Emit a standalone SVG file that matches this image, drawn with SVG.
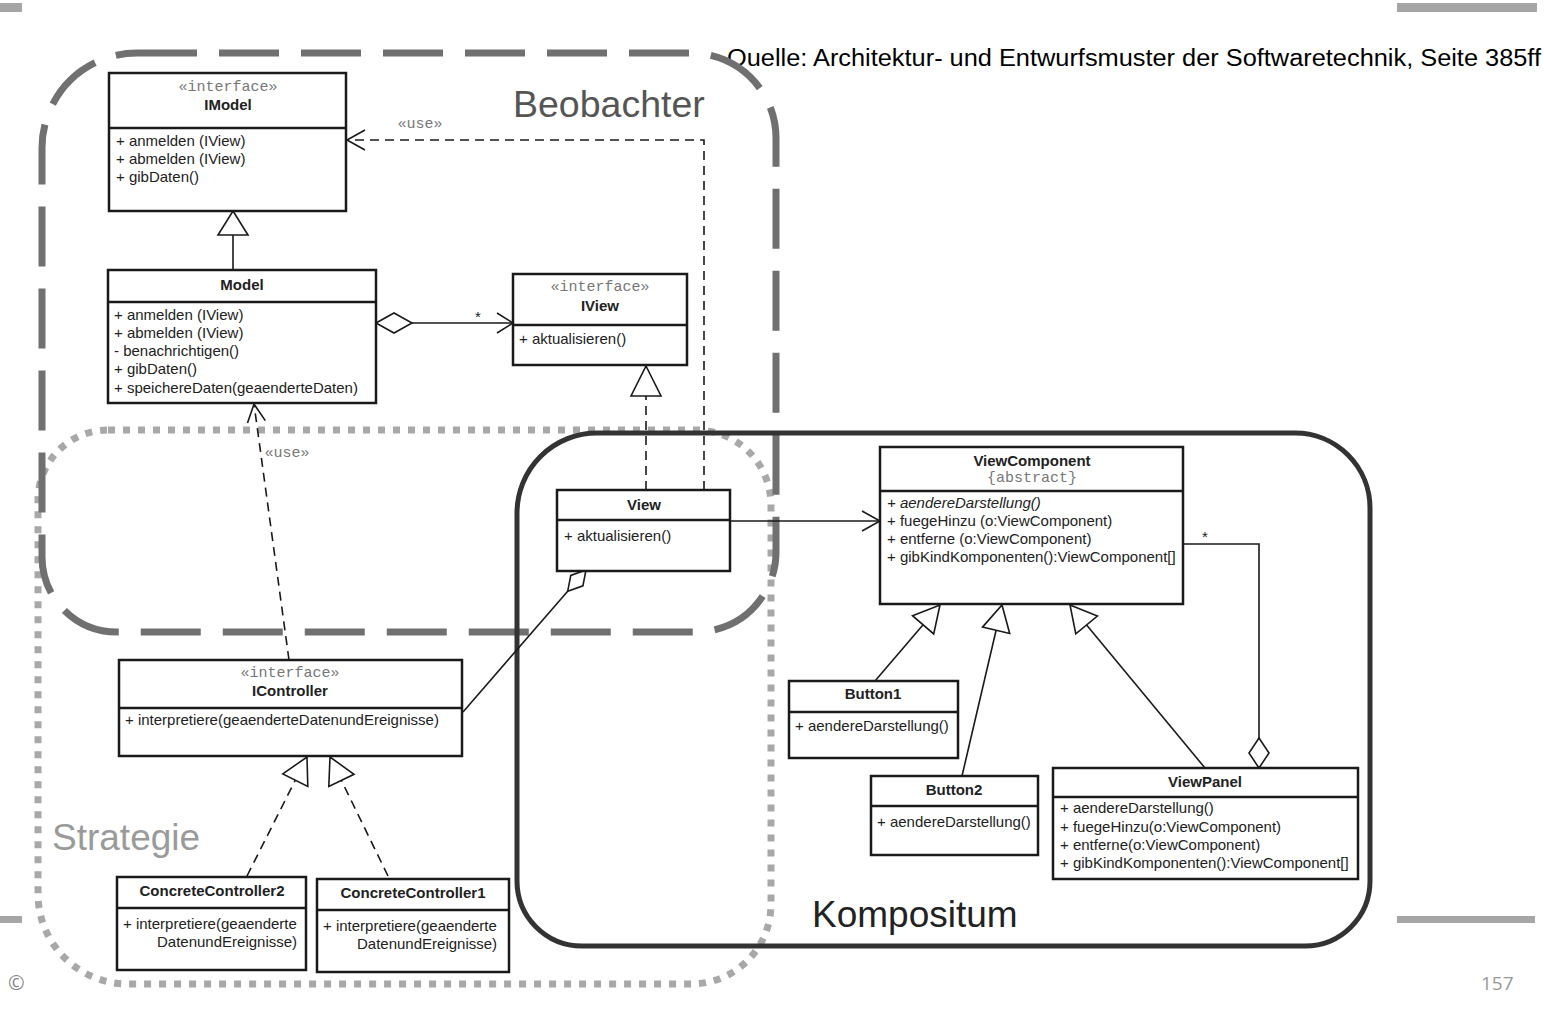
<svg xmlns="http://www.w3.org/2000/svg" width="1544" height="1018" viewBox="0 0 1544 1018">
<style>
.box{fill:#fff;stroke:#1a1a1a;stroke-width:2.5}
.div{stroke:#1a1a1a;stroke-width:2.5}
.t{font-family:"Liberation Sans",Arial,sans-serif;font-size:15px;fill:#222}
.b{font-weight:bold;text-anchor:middle}
.st{font-family:"Liberation Mono","Courier New",monospace;font-size:15px;fill:#777;text-anchor:middle}
.ln{stroke:#1a1a1a;stroke-width:1.6;fill:none}
.dash{stroke-dasharray:9 6}
.head{fill:#fff;stroke:#1a1a1a;stroke-width:1.6}
.region{fill:none}
</style>
<rect width="1544" height="1018" fill="#fff"/>
<!-- slide decorations -->
<rect x="0" y="3" width="22" height="9" fill="#a6a6a6"/>
<rect x="1397" y="3" width="140" height="9" fill="#a6a6a6"/>
<rect x="0" y="916" width="22" height="7" fill="#a6a6a6"/>
<rect x="1397" y="916" width="138" height="7" fill="#a6a6a6"/>
<text x="8" y="990" font-family="Open Sans,sans-serif" font-size="20" fill="#888">©</text>
<text x="1481" y="990" font-family="Open Sans,sans-serif" font-size="19" fill="#999">157</text>
<text x="727" y="66" font-family="Liberation Sans,Arial,sans-serif" font-size="23.5" fill="#000" textLength="814" lengthAdjust="spacingAndGlyphs">Quelle: Architektur- und Entwurfsmuster der Softwaretechnik, Seite 385ff</text>

<!-- regions -->
<g id="regions">
<path class="region" d="M108,430 H696 A75,75 0 0 1 771,505 V904 A80,80 0 0 1 691,984 H128 A90,90 0 0 1 38,894 V500 A70,70 0 0 1 108,430 Z" stroke="#a8a8a8" stroke-width="7" stroke-dasharray="7 8"/>
<path class="region" d="M137,53 H691 A85,85 0 0 1 776,138 V552 A80,80 0 0 1 696,632 H117 A75,75 0 0 1 42,557 V148 A95,95 0 0 1 137,53 Z" stroke="#707070" stroke-width="7" stroke-dasharray="60 22"/>
<path class="region" d="M597,433 H1295 A75,75 0 0 1 1370,508 V881 A65,65 0 0 1 1305,946 H582 A65,65 0 0 1 517,881 V513 A80,80 0 0 1 597,433 Z" stroke="#333" stroke-width="5"/>
<text x="513" y="117" font-family="Liberation Sans,Arial,sans-serif" font-size="37.5" fill="#555">Beobachter</text>
<text x="52" y="850" font-family="Liberation Sans,Arial,sans-serif" font-size="37" fill="#9a9a9a">Strategie</text>
<text x="812" y="927" font-family="Liberation Sans,Arial,sans-serif" font-size="37" fill="#222">Kompositum</text>
</g>

<!-- connectors -->
<g id="connectors">
<!-- Model -> IModel -->
<line class="ln" x1="233" y1="235" x2="233" y2="270"/>
<polygon class="head" points="233,211 248,235 218,235"/>
<!-- Model <>-> IView -->
<line class="ln" x1="412" y1="323" x2="513" y2="323"/>
<polygon class="head" points="376,323 394,313 412,323 394,333"/>
<polyline class="ln" points="497,313 513,323 497,333"/>
<text class="t" x="475" y="322" font-size="16">*</text>
<!-- View -> IView realization -->
<line class="ln dash" x1="646" y1="490" x2="646" y2="396"/>
<polygon class="head" points="646,366 661,396 631,396"/>
<!-- View -> IModel use -->
<polyline class="ln dash" points="704,490 704,140 347,140"/>
<polyline class="ln" points="365,130 347,140 365,150"/>
<text class="st" x="420" y="128" font-size="12.5">«use»</text>
<!-- IController -> Model use -->
<line class="ln dash" x1="289" y1="660" x2="254" y2="404"/>
<polyline class="ln" points="265.3,420.6 254,404 247.5,423"/>
<text class="st" x="287" y="457" font-size="12.5">«use»</text>
<!-- View <>- IController -->
<line class="ln" x1="567.7" y1="591.2" x2="463" y2="712"/>
<polygon class="head" points="586,570 582.9,585.8 567.7,591.2 570.8,575.4"/>
<!-- View -> ViewComponent -->
<line class="ln" x1="730" y1="521" x2="880" y2="521"/>
<polyline class="ln" points="862,511 880,521 862,531"/>
<!-- ViewPanel <>- ViewComponent -->
<polyline class="ln" points="1183,544 1259,544 1259,738"/>
<polygon class="head" points="1259,738 1269,753 1259,768 1249,753"/>
<text class="t" x="1202" y="542" font-size="16">*</text>
<!-- Button1 -> ViewComponent -->
<line class="ln" x1="875" y1="681" x2="923.1" y2="624.8"/>
<polygon class="head" points="940,605 933.7,633.9 912.5,615.7"/>
<!-- Button2 -> ViewComponent -->
<line class="ln" x1="962" y1="776" x2="996.1" y2="630.3"/>
<polygon class="head" points="1002,605 1009.7,633.5 982.5,627.1"/>
<!-- ViewPanel -> ViewComponent -->
<line class="ln" x1="1205" y1="768" x2="1086.6" y2="625"/>
<polygon class="head" points="1070,605 1097.4,616.1 1075.8,633.9"/>
<!-- ConcreteController2 -> IController -->
<line class="ln dash" x1="247" y1="876" x2="295.3" y2="780.2"/>
<polygon class="head" points="307,757 307.8,786.5 282.8,773.9"/>
<!-- ConcreteController1 -> IController -->
<line class="ln dash" x1="388" y1="876" x2="341.4" y2="780.4"/>
<polygon class="head" points="330,757 354,774.3 328.8,786.5"/>
</g>

<!-- nodes -->
<g id="IModel">
<rect class="box" x="109" y="73" width="237" height="138"/>
<line class="div" x1="109" y1="128" x2="346" y2="128"/>
<text class="st" x="228" y="91">«interface»</text>
<text class="t b" x="228" y="110">IModel</text>
<text class="t" x="116" y="146">+ anmelden (IView)</text>
<text class="t" x="116" y="164">+ abmelden (IView)</text>
<text class="t" x="116" y="182">+ gibDaten()</text>
</g>
<g id="Model">
<rect class="box" x="108" y="270" width="268" height="133"/>
<line class="div" x1="108" y1="302" x2="376" y2="302"/>
<text class="t b" x="242" y="290">Model</text>
<text class="t" x="114" y="320">+ anmelden (IView)</text>
<text class="t" x="114" y="338">+ abmelden (IView)</text>
<text class="t" x="114" y="356">- benachrichtigen()</text>
<text class="t" x="114" y="374">+ gibDaten()</text>
<text class="t" x="114" y="393">+ speichereDaten(geaenderteDaten)</text>
</g>
<g id="IView">
<rect class="box" x="513" y="274" width="174" height="91"/>
<line class="div" x1="513" y1="325" x2="687" y2="325"/>
<text class="st" x="600" y="291">«interface»</text>
<text class="t b" x="600" y="311">IView</text>
<text class="t" x="519" y="344">+ aktualisieren()</text>
</g>
<g id="View">
<rect class="box" x="557" y="490" width="173" height="81"/>
<line class="div" x1="557" y1="520" x2="730" y2="520"/>
<text class="t b" x="644" y="510">View</text>
<text class="t" x="564" y="541">+ aktualisieren()</text>
</g>
<g id="ViewComponent">
<rect class="box" x="880" y="447" width="303" height="157"/>
<line class="div" x1="880" y1="491" x2="1183" y2="491"/>
<text class="t b" x="1032" y="466">ViewComponent</text>
<text class="st" x="1032" y="482" font-size="14.3">{abstract}</text>
<text class="t" x="887" y="508" font-style="italic">+ aendereDarstellung()</text>
<text class="t" x="887" y="526">+ fuegeHinzu (o:ViewComponent)</text>
<text class="t" x="887" y="544">+ entferne (o:ViewComponent)</text>
<text class="t" x="887" y="562">+ gibKindKomponenten():ViewComponent[]</text>
</g>
<g id="Button1">
<rect class="box" x="789" y="681" width="169" height="77"/>
<line class="div" x1="789" y1="712" x2="958" y2="712"/>
<text class="t b" x="873" y="699">Button1</text>
<text class="t" x="795" y="731">+ aendereDarstellung()</text>
</g>
<g id="Button2">
<rect class="box" x="871" y="776" width="167" height="79"/>
<line class="div" x1="871" y1="806" x2="1038" y2="806"/>
<text class="t b" x="954" y="795">Button2</text>
<text class="t" x="877" y="827">+ aendereDarstellung()</text>
</g>
<g id="ViewPanel">
<rect class="box" x="1053" y="768" width="305" height="111"/>
<line class="div" x1="1053" y1="797" x2="1358" y2="797"/>
<text class="t b" x="1205" y="787">ViewPanel</text>
<text class="t" x="1060" y="813">+ aendereDarstellung()</text>
<text class="t" x="1060" y="832">+ fuegeHinzu(o:ViewComponent)</text>
<text class="t" x="1060" y="850">+ entferne(o:ViewComponent)</text>
<text class="t" x="1060" y="868">+ gibKindKomponenten():ViewComponent[]</text>
</g>
<g id="IController">
<rect class="box" x="119" y="660" width="343" height="96"/>
<line class="div" x1="119" y1="708" x2="462" y2="708"/>
<text class="st" x="290" y="677">«interface»</text>
<text class="t b" x="290" y="696">IController</text>
<text class="t" x="125" y="725">+ interpretiere(geaenderteDatenundEreignisse)</text>
</g>
<g id="ConcreteController2">
<rect class="box" x="117" y="877" width="189" height="93"/>
<line class="div" x1="117" y1="908" x2="306" y2="908"/>
<text class="t b" x="212" y="896">ConcreteController2</text>
<text class="t" x="123" y="929">+ interpretiere(geaenderte</text>
<text class="t" x="157" y="947">DatenundEreignisse)</text>
</g>
<g id="ConcreteController1">
<rect class="box" x="317" y="879" width="192" height="93"/>
<line class="div" x1="317" y1="910" x2="509" y2="910"/>
<text class="t b" x="413" y="898">ConcreteController1</text>
<text class="t" x="323" y="931">+ interpretiere(geaenderte</text>
<text class="t" x="357" y="949">DatenundEreignisse)</text>
</g>
</svg>
